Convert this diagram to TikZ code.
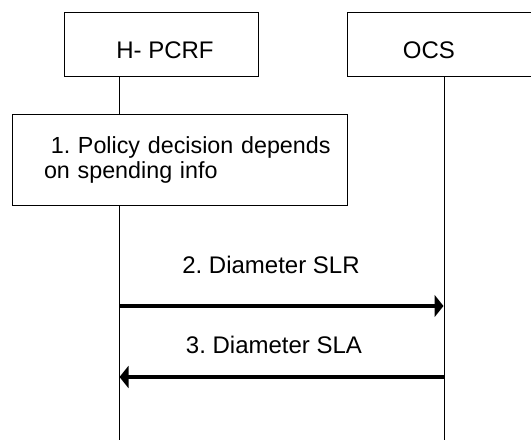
\documentclass[tikz,border=0pt]{standalone}
\usepackage{fontspec}
\setmainfont{Liberation Sans}
\usetikzlibrary{arrows.meta,positioning}

\begin{document}
\frenchspacing
\begin{tikzpicture}[
  x=1pt,
  y=-1pt,
  font=\fontsize{24}{25.5}\selectfont,
  entity/.style={draw, line width=1pt, minimum width=194pt, minimum height=64pt,
    inner sep=0pt, text height=28pt, text depth=0pt},
  action/.style={draw, line width=1pt, minimum width=335pt, minimum height=91pt,
    inner xsep=10pt, inner ysep=0pt, text width=315pt, align=left,
    font=\fontsize{23.3}{25.5}\selectfont},
  life/.style={line width=0.9pt},
  msg/.style={line width=4.5pt, -{Triangle[length=9pt, width=22pt]}}
]
  \clip (0,0) rectangle (531,440);

  \node[entity] (hpcrf) at (161,44.5) {\hspace*{8pt}H- PCRF};
  \node[entity] (ocs) at (444,44.5) {OCS\hspace*{30pt}};
  \node[action] (policy) at (179.5,160)
    {\hspace*{28.8pt}\mbox{1. Policy decision depends}\\\hspace*{22pt}on spending info};

  \coordinate (hBottom) at (119,440);
  \coordinate (oBottom) at (444,440);
  \draw[life] (hBottom |- hpcrf.south) -- (hBottom |- policy.north);
  \draw[life] (hBottom |- policy.south) -- (hBottom);
  \draw[life] (oBottom |- ocs.south) -- (oBottom);

  \coordinate (slrFrom) at (119,306);
  \coordinate (slrTo) at (443.5,306);
  \draw[msg] (slrFrom) -- (slrTo);
  \node[anchor=base] (slr) at (271,273) {2. Diameter SLR};

  \coordinate (slaFrom) at (444,377);
  \coordinate (slaTo) at (119.5,377);
  \draw[msg] (slaFrom) -- (slaTo);
  \node[anchor=base] (sla) at (274,353) {3. Diameter SLA};
\end{tikzpicture}
\end{document}
